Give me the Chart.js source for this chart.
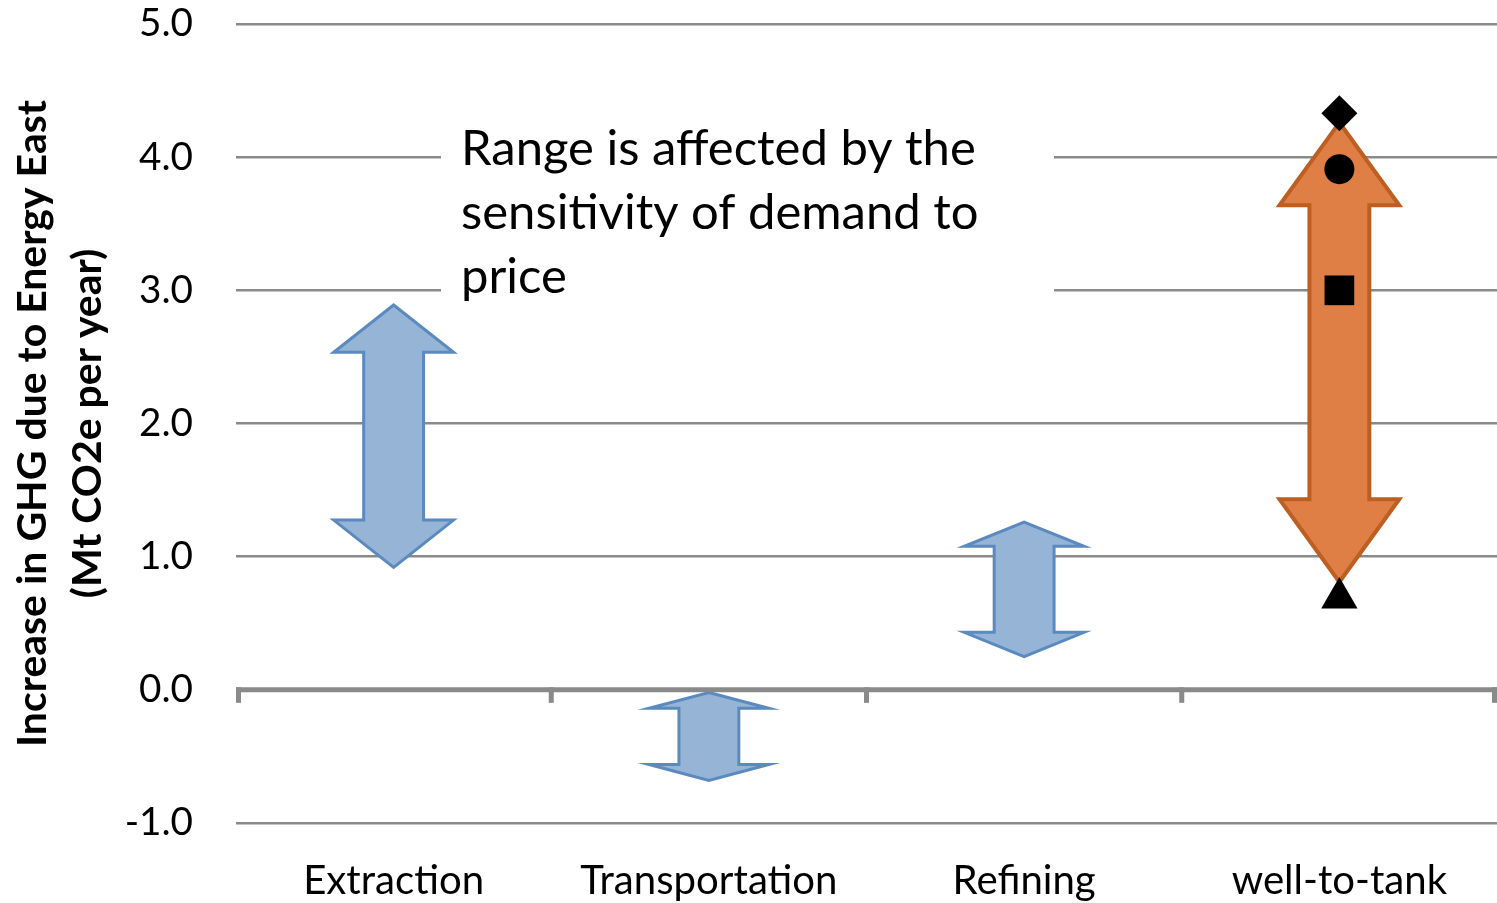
<!DOCTYPE html>
<html><head><meta charset="utf-8">
<script src="https://cdn.jsdelivr.net/npm/chart.js@4.4.0/dist/chart.umd.min.js"></script>
<style>html,body{margin:0;padding:0;background:#fff;}canvas{display:block;}</style>
</head><body>
<canvas id="c" width="1497" height="903"></canvas>
<script>
// ---- data ----
const categories = ['Extraction', 'Transportation', 'Refining', 'well-to-tank'];
const rangeLow  = [0.92, -0.68, 0.25, 0.81];
const rangeHigh = [2.89, -0.02, 1.26, 4.26];
const markerCategory = ['well-to-tank', 'well-to-tank', 'well-to-tank', 'well-to-tank'];
const markerValues = [4.33, 3.91, 3.00, 0.69];
const markerShapes = ['rectRot', 'circle', 'rect', 'triangle'];
const tickLabels = ['-1.0', '0.0', '1.0', '2.0', '3.0', '4.0', '5.0'];
const yTitle = ['Increase in GHG due to Energy East', '(Mt CO2e per year)'];
const noteLines = ['Range is affected by the', 'sensitivity of demand to', 'price'];

// ---- fonts ----
const FAMILY = 'Lato, "Open Sans", sans-serif';
function fit(text, weight, target) {
  const c = document.createElement('canvas').getContext('2d');
  c.font = weight + ' 100px ' + FAMILY;
  return 100 * target / c.measureText(text).width;
}
const tickSize = fit('5.0', 'normal', 54);
const catSize = fit('Extraction', 'normal', 181);
const titleSize = fit(yTitle[0], 'bold', 647);
const noteSize = fit(noteLines[0], 'normal', 515);

const GRID = '#8a8a8a';

const arrowPlugin = {
  id: 'arrows',
  afterDatasetDraw(chart, args) {
    if (args.meta.type !== 'bar') return;
    const ctx = chart.ctx;
    const ds = chart.data.datasets[args.index];
    ctx.save();
    args.meta.data.forEach((el, i) => {
      const cx = el.x;
      const top = Math.min(el.y, el.base), bot = Math.max(el.y, el.base);
      const hw = el.width / 2, sw = hw / 2, hl = 0.18 * (bot - top);
      ctx.beginPath();
      ctx.moveTo(cx, top);
      ctx.lineTo(cx + hw, top + hl);
      ctx.lineTo(cx + sw, top + hl);
      ctx.lineTo(cx + sw, bot - hl);
      ctx.lineTo(cx + hw, bot - hl);
      ctx.lineTo(cx, bot);
      ctx.lineTo(cx - hw, bot - hl);
      ctx.lineTo(cx - sw, bot - hl);
      ctx.lineTo(cx - sw, top + hl);
      ctx.lineTo(cx - hw, top + hl);
      ctx.closePath();
      ctx.fillStyle = ds.arrowFill[i];
      ctx.fill();
      ctx.lineJoin = 'miter';
      ctx.lineWidth = ds.arrowLineWidth[i];
      ctx.strokeStyle = ds.arrowStroke[i];
      ctx.stroke();
    });
    ctx.restore();
  }
};

const axisTicksPlugin = {
  id: 'zeroTicks',
  afterDatasetsDraw(chart) {
    const ctx = chart.ctx, xs = chart.scales.x, ys = chart.scales.y;
    const y0 = ys.getPixelForValue(0);
    const a = chart.chartArea;
    ctx.save();
    ctx.strokeStyle = GRID;
    ctx.lineWidth = 5;
    ctx.beginPath();
    ctx.moveTo(a.left, y0); ctx.lineTo(a.right, y0);
    ctx.stroke();
    for (let i = 0; i <= categories.length; i++) {
      let px = xs.getPixelForValue(i - 0.5);
      px = Math.min(Math.max(px, a.left + 2.5), a.right - 2.5);
      ctx.beginPath();
      ctx.moveTo(px, y0 - 2.5); ctx.lineTo(px, y0 + 13);
      ctx.stroke();
    }
    ctx.restore();
  }
};

const notePlugin = {
  id: 'note',
  beforeDatasetsDraw(chart) {
    const ctx = chart.ctx;
    ctx.save();
    ctx.fillStyle = '#ffffff';
    ctx.fillRect(441, 118, 613, 194);
    ctx.fillStyle = '#000000';
    ctx.font = 'normal ' + noteSize + 'px ' + FAMILY;
    ctx.textAlign = 'left';
    ctx.textBaseline = 'alphabetic';
    noteLines.forEach((t, i) => ctx.fillText(t, 461, 165 + i * 64));
    ctx.restore();
  }
};

new Chart(document.getElementById('c'), {
  type: 'bar',
  data: {
    labels: categories,
    datasets: [
      {
        type: 'line',
        label: 'Scenarios',
        order: 1,
        data: markerValues.map((v, i) => ({ x: markerCategory[i], y: v })),
        showLine: false,
        clip: false,
        pointStyle: markerShapes,
        pointRadius: [18, 15, 21, 21],
        pointBackgroundColor: '#000000',
        pointBorderColor: '#000000',
        pointBorderWidth: 0
      },
      {
        type: 'bar',
        label: 'Range',
        order: 2,
        data: rangeLow.map((v, i) => [v, rangeHigh[i]]),
        backgroundColor: 'rgba(0,0,0,0)',
        borderWidth: 0,
        barPercentage: 1,
        categoryPercentage: 0.38,
        arrowFill: ['#95b4d6', '#95b4d6', '#95b4d6', '#df7f46'],
        arrowStroke: ['#5a8abf', '#5a8abf', '#5a8abf', '#bd5f21'],
        arrowLineWidth: [3, 3, 3, 4]
      }
    ]
  },
  options: {
    responsive: false,
    animation: false,
    devicePixelRatio: 1,
    layout: { autoPadding: false, padding: { top: 24, right: 0, bottom: 0, left: 0 } },
    plugins: { legend: { display: false }, tooltip: { enabled: false } },
    scales: {
      x: {
        type: 'category',
        offset: true,
        grid: { display: false, drawOnChartArea: false, drawTicks: true, tickLength: 34, tickColor: 'rgba(0,0,0,0)' },
        border: { display: false },
        ticks: { color: '#000', font: { family: FAMILY, size: catSize }, padding: 0, maxRotation: 0, autoSkip: false },
        afterFit(s) { s.height = 80; s.paddingLeft = 0; s.paddingRight = 0; s.paddingTop = 0; s.paddingBottom = 0; }
      },
      y: {
        min: -1, max: 5,
        border: { display: false },
        grid: {
          color: GRID,
          lineWidth: (c) => (c.tick && c.tick.value === 0 ? 0 : 2.6),
          drawTicks: true,
          tickLength: 43,
          tickColor: 'rgba(0,0,0,0)'
        },
        ticks: {
          stepSize: 1,
          color: '#000',
          padding: 0,
          font: { family: FAMILY, size: tickSize },
          callback: (v) => tickLabels[Math.round(v) + 1]
        },
        title: {
          display: true,
          text: yTitle,
          color: '#000',
          font: { family: FAMILY, size: titleSize, weight: 'bold', lineHeight: 55 / titleSize },
          padding: { top: 5, bottom: 0 }
        },
        afterFit(s) { s.width = 236; s.paddingLeft = 0; s.paddingRight = 0; s.paddingTop = 0; s.paddingBottom = 0; }
      }
    }
  },
  plugins: [notePlugin, arrowPlugin, axisTicksPlugin]
});
</script>
</body></html>
